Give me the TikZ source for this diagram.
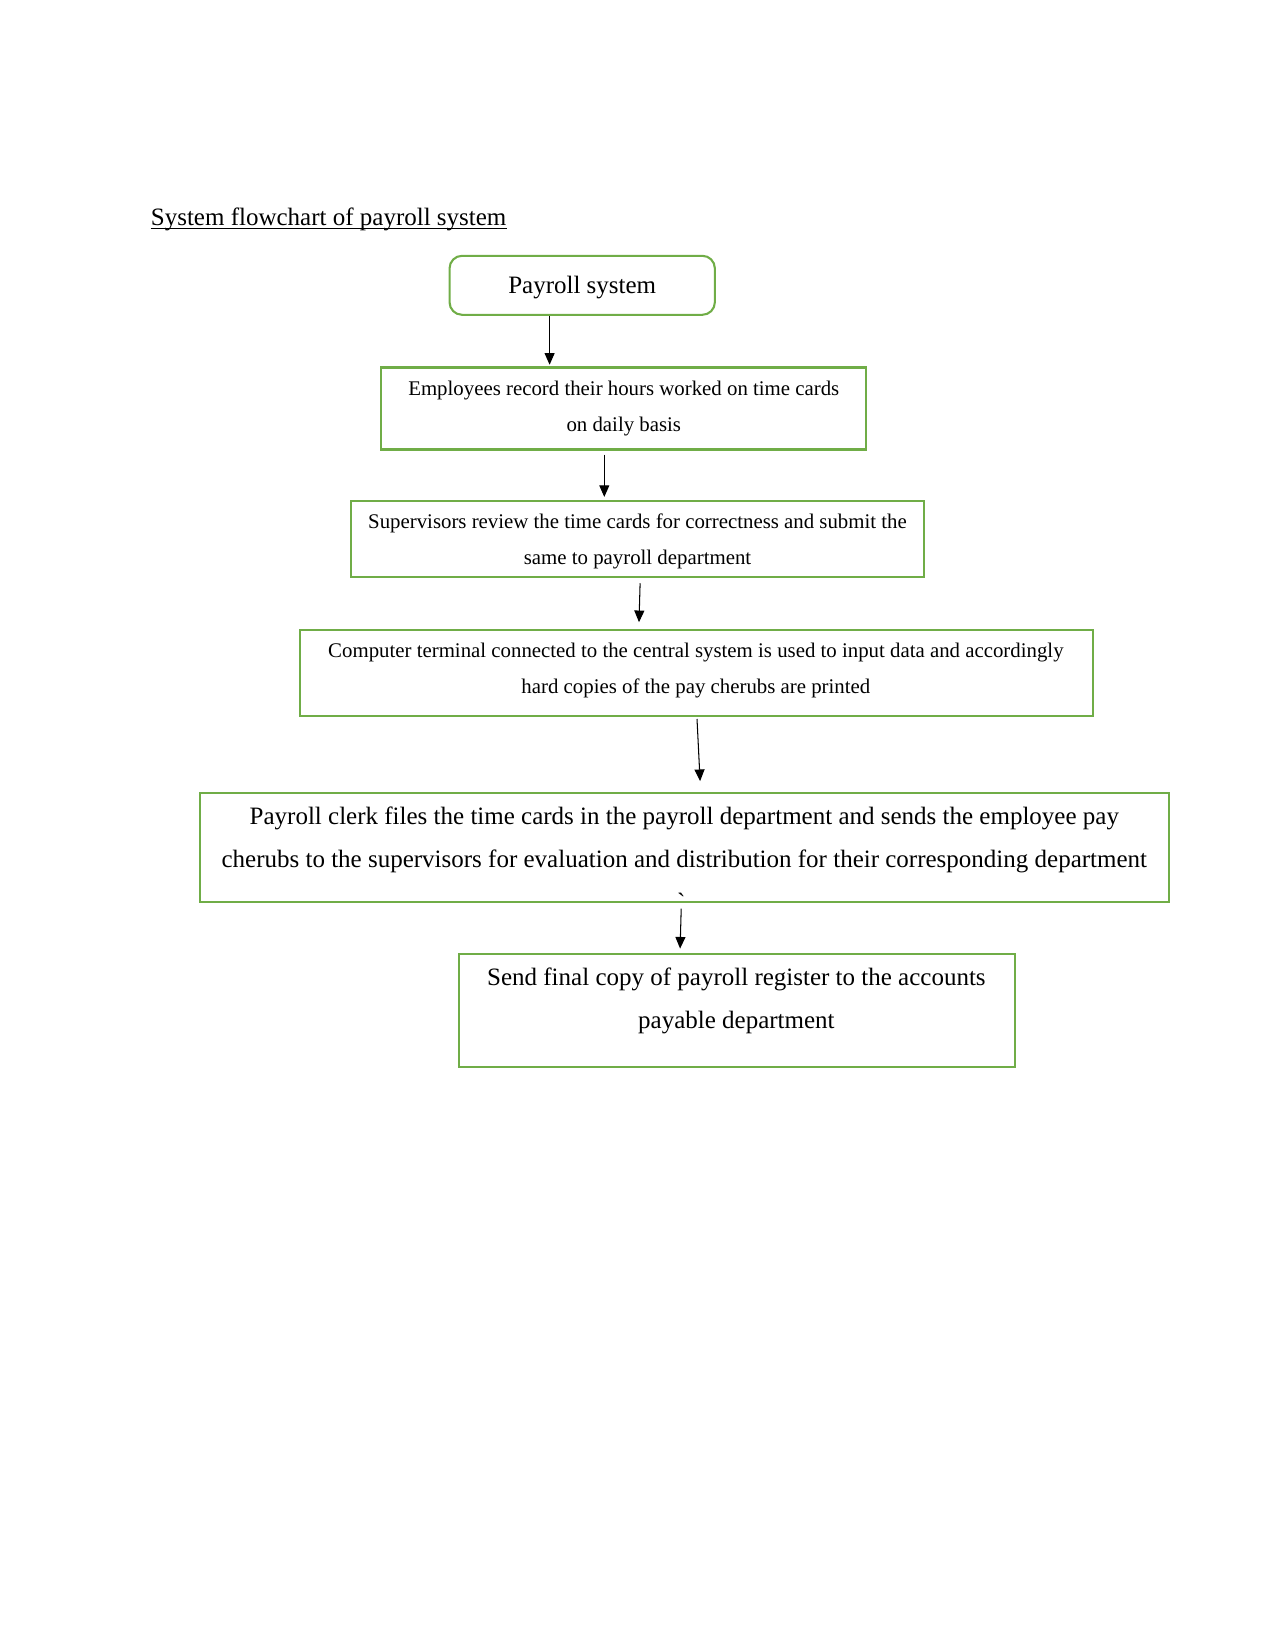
\documentclass[tikz,border=0pt]{standalone}
\usepackage{fontspec}
\setmainfont{Liberation Serif}
\usetikzlibrary{arrows.meta,calc}
\definecolor{boxgreen}{HTML}{70AD47}
\begin{document}
\begin{tikzpicture}[x=0.48pt,y=-0.48pt,
  box/.style={draw=boxgreen,line width=1pt,rectangle,inner sep=0pt},
  txtsmall/.style={align=center,inner sep=0pt,font=\fontsize{10}{17.2}\selectfont},
  txtbig/.style={align=center,inner sep=0pt,font=\fontsize{12}{20.7}\selectfont},
  arr/.style={line width=0.5pt,-{Triangle[length=5.6pt,width=4.8pt]}}]
\useasboundingbox (0,0) rectangle (1275,1651);
% title
\node[anchor=base west,inner sep=0pt,font=\fontsize{12}{14}\selectfont] (title) at (150.5,225.5) {System flowchart of payroll system};
\draw[line width=0.5pt] ($(title.base west)+(0,3)$) -- ($(title.base east)+(0,3)$);
% boxes
\node[box,rounded corners=6pt,minimum width=265.3*0.48pt,minimum height=59*0.48pt] (b1) at (582.2,285.3) {};
\node[box,minimum width=485*0.48pt,minimum height=82*0.48pt] (b2) at (623.5,408.5) {};
\node[box,minimum width=573.8*0.48pt,minimum height=75.8*0.48pt] (b3) at (637.5,539) {};
\node[box,minimum width=792.8*0.48pt,minimum height=86.3*0.48pt] (b4) at (696.4,672.7) {};
\node[box,minimum width=968.6*0.48pt,minimum height=109.5*0.48pt] (b5) at (684.3,847.5) {};
\node[box,minimum width=555.9*0.48pt,minimum height=112.7*0.48pt] (b6) at (737,1010.2) {};
% texts
\node[anchor=base,inner sep=0pt,font=\fontsize{12}{14}\selectfont] (t1) at (582.2,294) {Payroll system};
\node[txtsmall] (t2) at (623.8,408.6) {Employees record their hours worked on time cards\\on daily basis};
\node[txtsmall] (t3) at (637.5,541.2) {Supervisors review the time cards for correctness and submit the\\same to payroll department};
\node[txtsmall] (t4) at (695.9,670.8) {Computer terminal connected to the central system is used to input data and accordingly\\hard copies of the pay cherubs are printed};
\node[txtbig] (t5) at (684.3,858.6) {Payroll clerk files the time cards in the payroll department and sends the employee pay\\cherubs to the supervisors for evaluation and distribution for their corresponding department\\{\addfontfeature{Ligatures=TeXOff}\hspace*{-3pt}`}};
\node[txtbig] (t6) at (736.4,1000.8) {Send final copy of payroll register to the accounts\\payable department};
% arrows
\draw[arr] ([shift={(-32.6,0)}]b1.south) -- ([shift={(-73.9,-1.7)}]b2.north);
\draw[arr] ([shift={(-19.2,4.2)}]b2.south) -- ([shift={(-33.2,-3.1)}]b3.north);
\draw[arr] ([shift={(2.6,5.3)}]b3.south) -- ([shift={(-57.4,-6.3)}]b4.north);
\draw[arr] ([shift={(0.6,2.1)}]b4.south) -- ([shift={(15.8,-10.6)}]b5.north);
\draw[arr] ([shift={(-3.1,5.3)}]b5.south) -- ([shift={(-56.9,-4.2)}]b6.north);
\end{tikzpicture}
\end{document}
